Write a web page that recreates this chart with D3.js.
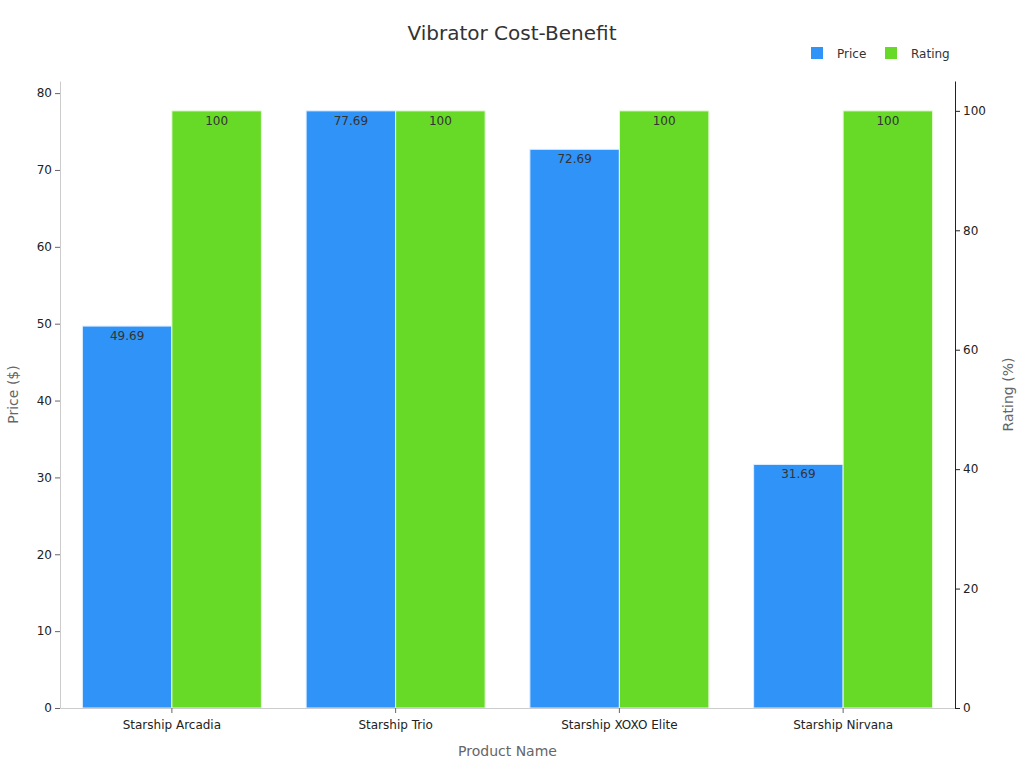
<!DOCTYPE html>
<html>
<head>
<meta charset="utf-8">
<script src="https://cdn.jsdelivr.net/npm/d3@7"></script>
<style>
  body { margin: 0; background: #fff; }
  svg { font-family: "DejaVu Sans", sans-serif; }
  .label { font-size: 12px; fill: #333; }
</style>
</head>
<body>
<div id="chart"></div>
<script>
// Data
const categories = ["Starship Arcadia", "Starship Trio", "Starship XOXO Elite", "Starship Nirvana"];
const prices = [49.69, 77.69, 72.69, 31.69];
const ratings = [100, 100, 100, 100];
const priceTicks = [0, 10, 20, 30, 40, 50, 60, 70, 80];
const ratingTicks = [0, 20, 40, 60, 80, 100];

const W = 1024, H = 768;
const margin = {top: 81, right: 69, bottom: 60, left: 60},
      width = W - margin.left - margin.right,
      height = H - margin.top - margin.bottom;

const svg = d3.select("#chart")
  .append("svg")
    .attr("width", W)
    .attr("height", H);

const g = svg.append("g")
    .attr("transform", `translate(${margin.left},${margin.top})`);

// Scales
const x = d3.scaleBand()
  .domain(categories)
  .range([0, width])
  .paddingInner(0.2)
  .paddingOuter(0.1);

const xSub = d3.scaleBand()
  .domain(["Price", "Rating"])
  .range([0, x.bandwidth()]);

const yLeft = d3.scaleLinear()
  .domain([0, d3.max(prices) * 1.05])
  .range([height, 0]);

const yRight = d3.scaleLinear()
  .domain([0, 105])
  .range([height, 0]);

const colors = {Price: "#3093f8", Rating: "#66da26"};

// Bars
const groups = g.selectAll(".grp")
  .data(categories)
  .join("g")
  .attr("transform", d => `translate(${x(d)},0)`);

groups.append("rect")
  .attr("x", xSub("Price"))
  .attr("y", (d, i) => yLeft(prices[i]))
  .attr("width", xSub.bandwidth())
  .attr("height", (d, i) => height - yLeft(prices[i]))
  .attr("fill", colors.Price)
  .attr("stroke", "#dfefff")
  .attr("stroke-width", 1);

groups.append("rect")
  .attr("x", xSub("Rating"))
  .attr("y", (d, i) => yRight(ratings[i]))
  .attr("width", xSub.bandwidth())
  .attr("height", (d, i) => height - yRight(ratings[i]))
  .attr("fill", colors.Rating)
  .attr("stroke", "#e8fbd8")
  .attr("stroke-width", 1);

// Value labels
groups.append("text")
  .attr("class", "label")
  .attr("x", xSub("Price") + xSub.bandwidth() / 2)
  .attr("y", (d, i) => yLeft(prices[i]) + 14)
  .attr("text-anchor", "middle")
  .text((d, i) => prices[i].toFixed(2));

groups.append("text")
  .attr("class", "label")
  .attr("x", xSub("Rating") + xSub.bandwidth() / 2)
  .attr("y", (d, i) => yRight(ratings[i]) + 14)
  .attr("text-anchor", "middle")
  .text((d, i) => ratings[i]);

// Axes
const xAxis = g.append("g")
  .attr("transform", `translate(0,${height})`)
  .call(d3.axisBottom(x).tickSize(5).tickSizeOuter(0))
  .attr("font-family", null);
xAxis.select(".domain").attr("stroke", "#ccc");
xAxis.selectAll(".tick line").attr("stroke", "#666");
xAxis.selectAll("text").attr("font-size", 12).attr("fill", "#222").attr("dy", "1.1em");

const yAxisL = g.append("g")
  .call(d3.axisLeft(yLeft).tickValues(priceTicks).tickSize(5).tickSizeOuter(0))
  .attr("font-family", null);
yAxisL.select(".domain").attr("stroke", "#ccc");
yAxisL.selectAll(".tick line").attr("stroke", "#666");
yAxisL.selectAll("text").attr("font-size", 12).attr("fill", "#222");

const yAxisR = g.append("g")
  .attr("transform", `translate(${width},0)`)
  .call(d3.axisRight(yRight).tickValues(ratingTicks).tickSize(5).tickSizeOuter(0))
  .attr("font-family", null);
yAxisR.select(".domain").attr("stroke", "#222");
yAxisR.selectAll(".tick line").attr("stroke", "#222");
yAxisR.selectAll("text").attr("font-size", 12).attr("fill", "#222");

// Title
svg.append("text")
  .attr("x", 512)
  .attr("y", 40)
  .attr("text-anchor", "middle")
  .style("font-size", "20px")
  .style("fill", "#333")
  .text("Vibrator Cost-Benefit");

// Axis titles
svg.append("text")
  .attr("x", margin.left + width / 2)
  .attr("y", 756)
  .attr("text-anchor", "middle")
  .style("font-size", "14px")
  .style("fill", "#666")
  .text("Product Name");

svg.append("text")
  .attr("transform", `translate(18,${margin.top + height / 2}) rotate(-90)`)
  .attr("text-anchor", "middle")
  .style("font-size", "14px")
  .style("fill", "#666")
  .text("Price ($)");

svg.append("text")
  .attr("transform", `translate(1013,${margin.top + height / 2}) rotate(-90)`)
  .attr("text-anchor", "middle")
  .style("font-size", "14px")
  .style("fill", "#666")
  .text("Rating (%)");

// Legend
const legendItems = [{name: "Price", x: 811}, {name: "Rating", x: 885}];
const legend = svg.selectAll(".legend")
  .data(legendItems)
  .join("g")
  .attr("transform", d => `translate(${d.x},47)`);
legend.append("rect")
  .attr("width", 12).attr("height", 12)
  .attr("fill", d => colors[d.name]);
legend.append("text")
  .attr("x", 26).attr("y", 11)
  .style("font-size", "12px")
  .style("fill", "#333")
  .text(d => d.name);
</script>
</body>
</html>
